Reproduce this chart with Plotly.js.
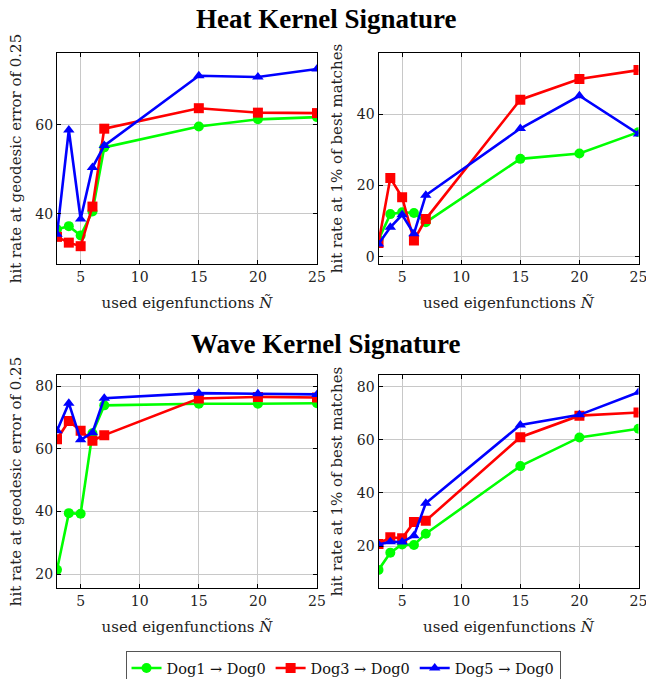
<!DOCTYPE html>
<html>
<head>
<meta charset="utf-8">
<script src="https://cdn.plot.ly/plotly-3.0.1.min.js"></script>
<style>html,body{margin:0;padding:0;background:#fff;}#chart{width:646px;height:679px;}</style>
</head>
<body>
<div id="chart"></div>
<script>
// x values (used eigenfunctions)
const xN = [3, 4, 5, 6, 7, 15, 20, 25];
const seriesNames = ['Dog1 \u2192 Dog0', 'Dog3 \u2192 Dog0', 'Dog5 \u2192 Dog0'];

// Heat Kernel Signature - geodesic error 0.25
const hksGeoDog1 = [36.5, 37.2, 35.1, 40.5, 54.9, 59.6, 61.2, 61.7];
const hksGeoDog3 = [34.8, 33.5, 32.7, 41.6, 59.1, 63.7, 62.7, 62.6];
const hksGeoDog5 = [35.4, 58.8, 38.8, 50.4, 55.3, 71.0, 70.7, 72.5];

// Heat Kernel Signature - 1% of best matches
const hksBestDog1 = [4.8, 12.0, 12.5, 12.3, 9.7, 27.5, 29.0, 35.0];
const hksBestDog3 = [3.9, 22.1, 16.7, 4.6, 10.6, 44.1, 49.9, 52.4];
const hksBestDog5 = [3.6, 8.3, 11.8, 6.5, 17.3, 36.0, 45.2, 34.5];

// Wave Kernel Signature - geodesic error 0.25
const wksGeoDog1 = [21.4, 39.5, 39.3, 65.0, 73.9, 74.4, 74.4, 74.6];
const wksGeoDog3 = [63.1, 68.9, 65.8, 62.6, 64.4, 76.1, 76.6, 76.4];
const wksGeoDog5 = [65.8, 74.6, 62.9, 65.2, 76.2, 77.8, 77.6, 77.4];

// Wave Kernel Signature - 1% of best matches
const wksBestDog1 = [11.0, 17.5, 20.6, 20.4, 24.6, 50.1, 60.9, 64.2];
const wksBestDog3 = [20.8, 23.3, 22.9, 29.0, 29.5, 61.0, 69.1, 70.3];
const wksBestDog5 = [20.6, 21.6, 21.5, 23.9, 36.1, 65.6, 69.4, 77.9];

const xTicks = [5, 10, 15, 20, 25];

const colors = ['#00ff00', '#ff0000', '#0000ff'];
const symbols = ['circle', 'square', 'triangle-up'];
const serif = 'DejaVu Serif';

const panels = [
  {xa: 'x', ya: 'y', data: [hksGeoDog1, hksGeoDog3, hksGeoDog5]},
  {xa: 'x2', ya: 'y2', data: [hksBestDog1, hksBestDog3, hksBestDog5]},
  {xa: 'x3', ya: 'y3', data: [wksGeoDog1, wksGeoDog3, wksGeoDog5]},
  {xa: 'x4', ya: 'y4', data: [wksBestDog1, wksBestDog3, wksBestDog5]}
];

const traces = [];
panels.forEach((p, pi) => {
  p.data.forEach((ys, si) => {
    traces.push({
      x: xN, y: ys, xaxis: p.xa, yaxis: p.ya,
      type: 'scatter', mode: 'lines+markers',
      name: seriesNames[si],
      showlegend: pi === 0,
      line: {color: colors[si], width: 2.6},
      marker: {color: colors[si], symbol: symbols[si], size: 10}
    });
  });
});

function xaxis(domain, anchor) {
  return {
    domain: domain, anchor: anchor, range: [3, 25],
    tickvals: xTicks, ticktext: xTicks.map(String), ticklabeloverflow: 'allow',
    ticks: 'inside', ticklen: 4, tickcolor: '#000', mirror: 'ticks',
    showline: true, linecolor: '#000', linewidth: 1,
    showgrid: true, gridcolor: '#c8c8c8', gridwidth: 1, zeroline: false,
    tickfont: {family: serif, size: 14, color: '#222'},
    title: {text: 'used eigenfunctions <i>Ñ</i>', font: {family: serif, size: 15, color: '#222'}, standoff: 13}
  };
}
function yaxis(domain, anchor, range, ticks, title) {
  return {
    domain: domain, anchor: anchor, range: range,
    tickvals: ticks, ticktext: ticks.map(String), ticklabeloverflow: 'allow',
    ticks: 'inside', ticklen: 4, tickcolor: '#000', mirror: 'ticks',
    showline: true, linecolor: '#000', linewidth: 1,
    showgrid: true, gridcolor: '#c8c8c8', gridwidth: 1, zeroline: false,
    tickfont: {family: serif, size: 14, color: '#222'},
    title: {text: title, font: {family: serif, size: 15, color: '#222'}, standoff: 10}
  };
}

const dxL = [57/646, 317/646];
const dxR = [378.5/646, 638.5/646];
const dyT = [(679-264)/679, (679-53)/679];
const dyB = [(679-587.7)/679, (679-375.3)/679];

const layout = {
  width: 646, height: 679,
  margin: {l: 0, r: 0, t: 0, b: 0, autoexpand: false},
  paper_bgcolor: '#fff', plot_bgcolor: '#fff',
  font: {family: serif},
  showlegend: true,
  legend: {
    orientation: 'h', x: 0.531, xanchor: 'center', y: (679-651)/679, yanchor: 'top',
    bordercolor: '#555', borderwidth: 1, bgcolor: '#fff',
    font: {family: serif, size: 14.5, color: '#111'}, itemwidth: 30, tracegroupgap: 0
  },
  xaxis: xaxis(dxL, 'y'),
  yaxis: yaxis(dyT, 'x', [28.7, 76.1], [40, 60], 'hit rate at geodesic error of 0.25'),
  xaxis2: xaxis(dxR, 'y2'),
  yaxis2: yaxis(dyT, 'x2', [-2, 57.2], [0, 20, 40], 'hit rate at 1% of best matches'),
  xaxis3: xaxis(dxL, 'y3'),
  yaxis3: yaxis(dyB, 'x3', [15.7, 83.5], [20, 40, 60, 80], 'hit rate at geodesic error of 0.25'),
  xaxis4: xaxis(dxR, 'y4'),
  yaxis4: yaxis(dyB, 'x4', [4.3, 84.3], [20, 40, 60, 80], 'hit rate at 1% of best matches'),
  annotations: [
    {text: '<b>Heat Kernel Signature</b>', xref: 'paper', yref: 'paper', x: 326.5/646, y: (679-19)/679,
     xanchor: 'center', yanchor: 'middle', showarrow: false, font: {family: 'Liberation Serif', size: 27, color: '#000'}},
    {text: '<b>Wave Kernel Signature</b>', xref: 'paper', yref: 'paper', x: 326.5/646, y: (679-344)/679,
     xanchor: 'center', yanchor: 'middle', showarrow: false, font: {family: 'Liberation Serif', size: 27, color: '#000'}}
  ]
};

Plotly.newPlot('chart', traces, layout, {staticPlot: true, displayModeBar: false});
</script>
</body>
</html>
